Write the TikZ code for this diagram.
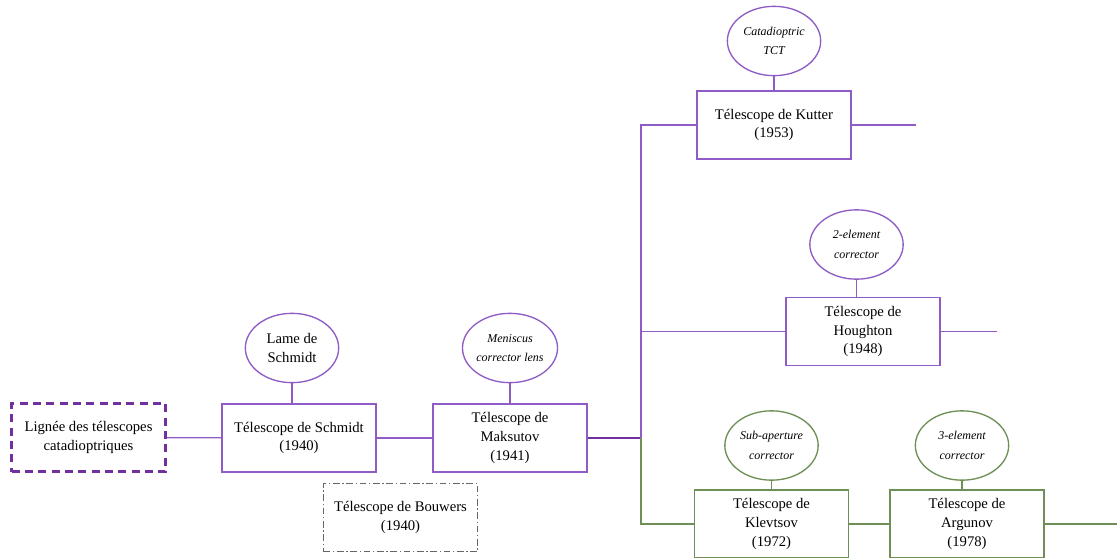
\documentclass[tikz,border=0pt]{standalone}
\usepackage{fontspec}
\setmainfont{Liberation Serif}
\usepackage{tikz}
\usetikzlibrary{positioning,shapes.geometric}
\definecolor{lignpurple}{HTML}{7030A0}
\definecolor{branchpurple}{HTML}{8E5CC4}
\definecolor{branchgreen}{HTML}{6E8F55}
\tikzset{
  tbox/.style={draw=branchpurple,line width=1pt,fill=white,align=center,
               minimum width=115.5pt,minimum height=51pt,inner sep=2pt,font=\fontsize{11}{14}\selectfont},
  gbox/.style={tbox,draw=branchgreen},
  lbox/.style={tbox,draw=lignpurple,line width=2pt,dash pattern=on 6pt off 4pt},
  bbox/.style={tbox,draw=black!60,line width=0.8pt,dash pattern=on 5pt off 2pt on 1pt off 2pt},
  ebox/.style={ellipse,draw=branchpurple,line width=1pt,fill=white,align=center,
               minimum width=70pt,minimum height=52pt,inner sep=0pt,font=\fontsize{9}{14.5}\selectfont\itshape},
  gell/.style={ebox,draw=branchgreen},
  lien/.style={draw=branchpurple,line width=1pt},
  glien/.style={draw=branchgreen,line width=1.1pt},
  tlien/.style={draw=lignpurple,line width=2pt}
}
\begin{document}
\begin{tikzpicture}[x=0.75pt,y=-0.75pt]
  \useasboundingbox (0,0) rectangle (1117,557);
  \clip (0,0) rectangle (1117,557);
  \node[lbox] (lign) at (88.5,437.5) {Lignée des télescopes\\catadioptriques};
  \node[tbox] (schmidt) at (299,438) {Télescope de Schmidt\\(1940)};
  \node[ebox,font=\fontsize{11}{14}\selectfont] (lame) at (292,348) {Lame de\\Schmidt};
  \node[tbox] (maksutov) at (510,438) {Télescope de\\Maksutov\\(1941)};
  \node[ebox] (menisc) at (510,348) {Meniscus\\corrector lens};
  \node[bbox] (bouwers) at (400.5,517.5) {Télescope de Bouwers\\(1940)};
  \node[tbox] (kutter) at (774,125) {Télescope de Kutter\\(1953)};
  \node[ebox] (tct) at (774,41) {Catadioptric\\TCT};
  \node[tbox] (houghton) at (863,331.5) {Télescope de\\Houghton\\(1948)};
  \node[ebox] (corr2) at (856.5,244.5) {2-element\\corrector};
  \node[gbox] (klevtsov) at (771.5,524) {Télescope de\\Klevtsov\\(1972)};
  \node[gell] (subap) at (771.5,445.5) {Sub-aperture\\corrector};
  \node[gbox] (argunov) at (967,524) {Télescope de\\Argunov\\(1978)};
  \node[gell] (corr3) at (962,445.5) {3-element\\corrector};
  \coordinate (jn) at (641,438);
  \coordinate (kutterend) at (916,125);
  \coordinate (houghtonend) at (997,331.5);
  \coordinate (argunovend) at (1117,524);
  \draw[lien] (lign) -- (schmidt);
  \draw[lien] (schmidt) -- (maksutov);
  \draw[tlien] (maksutov.east) -- (jn);
  \draw[lien] (jn) |- (kutter.west);
  \draw[lien] (jn |- houghton.west) -- (houghton.west);
  \draw[glien] (jn) |- (klevtsov.west);
  \draw[glien] (klevtsov) -- (argunov);
  \draw[lien] (kutter.east) -- (kutterend);
  \draw[lien] (houghton.east) -- (houghtonend);
  \draw[glien] (argunov.east) -- (argunovend);
  \foreach \e/\b in {lame/schmidt,menisc/maksutov,tct/kutter,corr2/houghton}{\draw[lien] (\e.south) -- (\e.south |- \b.north);}
  \foreach \e/\b in {subap/klevtsov,corr3/argunov}{\draw[glien] (\e.south) -- (\e.south |- \b.north);}
\end{tikzpicture}
\end{document}
